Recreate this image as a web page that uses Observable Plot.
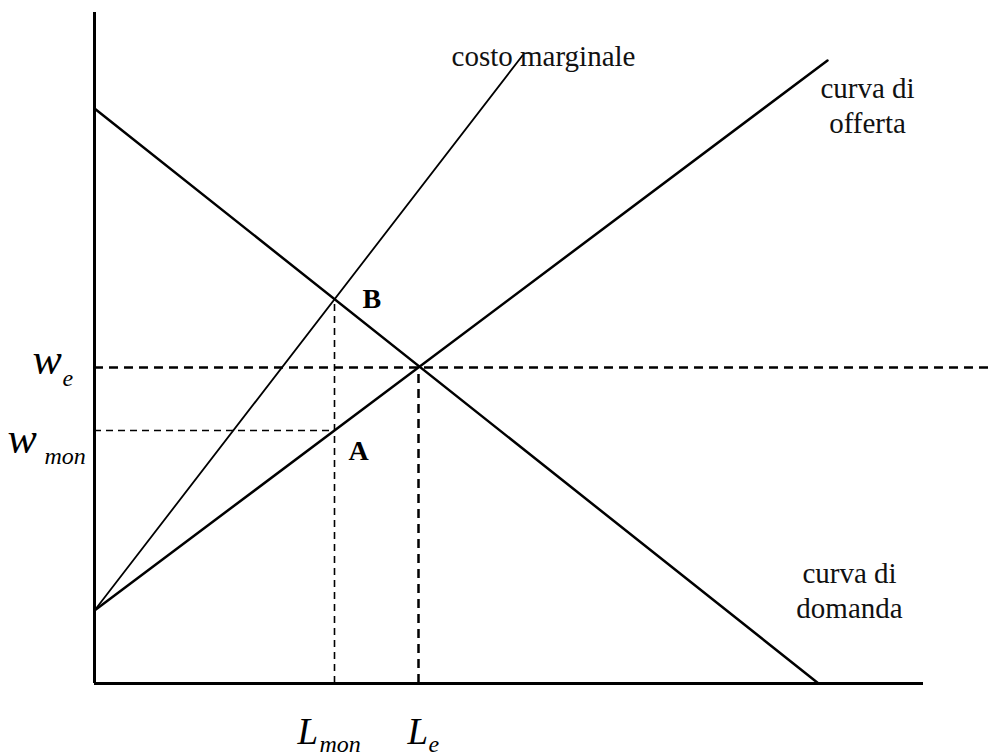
<!DOCTYPE html>
<html><head><meta charset="utf-8">
<script src="https://cdn.jsdelivr.net/npm/d3@7"></script>
<script src="https://cdn.jsdelivr.net/npm/@observablehq/plot@0.6"></script>
<style>body{margin:0;background:#fff}</style>
</head><body><div id="chart"></div>
<script>
// Diagram values (abstract units: L = quantity of labour, w = wage)
const demandL = [0, 724];
const demandW = [575, 0];
const supplyL = [0, 733];
const supplyW = [73, 623];
const mcL = [0, 428];
const mcW = [73, 628];
const Le = 324, we = 316;       // competitive equilibrium
const Lmon = 240, wmon = 253;   // monopsony point A
const wB = 384;                 // point B on demand curve
const axisEndL = 829, axisTopW = 671, maxL = 897, maxW = 683;

const curveLabels = [
  {L: 449, w: 618, text: "costo marginale"},
  {L: 773, w: 551, text: "curva di\nofferta"},
  {L: 755, w: 66, text: "curva di\ndomanda"}
];
const pointLabels = [
  {L: Lmon, w: wB, text: "B"},
  {L: Lmon, w: wmon, text: "A"}
];

const zipLW = (Ls, Ws) => Ls.map((L, i) => ({L, w: Ws[i]}));
const demand = zipLW(demandL, demandW);
const supply = zipLW(supplyL, supplyW);
const mc = zipLW(mcL, mcW);

const serif = "Liberation Serif, Times New Roman, serif";
const base = {fontFamily: serif, fontStyle: "italic", fill: "black", textAnchor: "start", lineAnchor: "bottom"};

const chart = Plot.plot({
  width: 991, height: 756,
  marginLeft: 94, marginRight: 0, marginTop: 0, marginBottom: 73,
  x: {domain: [0, maxL], axis: null},
  y: {domain: [0, maxW], axis: null},
  marks: [
    // axes
    Plot.ruleX([0], {y1: 0, y2: axisTopW, stroke: "black", strokeWidth: 3}),
    Plot.ruleY([0], {x1: 0, x2: axisEndL, stroke: "black", strokeWidth: 3}),
    // dashed guides
    Plot.ruleY([we], {x1: 0, x2: maxL, stroke: "black", strokeWidth: 2.5, strokeDasharray: "9,6"}),
    Plot.ruleX([Le], {y1: 0, y2: we, stroke: "black", strokeWidth: 2.5, strokeDasharray: "9,6"}),
    Plot.ruleY([wmon], {x1: 0, x2: Lmon, stroke: "black", strokeWidth: 1.6, strokeDasharray: "7,5"}),
    Plot.ruleX([Lmon], {y1: 0, y2: wB, stroke: "black", strokeWidth: 1.6, strokeDasharray: "7,5"}),
    // curves
    Plot.line(demand, {x: "L", y: "w", stroke: "black", strokeWidth: 2.5}),
    Plot.line(supply, {x: "L", y: "w", stroke: "black", strokeWidth: 2.5}),
    Plot.line(mc, {x: "L", y: "w", stroke: "black", strokeWidth: 1.8}),
    // curve labels
    Plot.text(curveLabels, {x: "L", y: "w", text: "text", fontFamily: serif, fontSize: 29, lineHeight: 1.2,
      textAnchor: "middle", lineAnchor: "bottom", fill: "#111"}),
    // point labels
    Plot.text(pointLabels.slice(0,1), {x: "L", y: "w", text: "text", dx: 28, dy: 8, fontFamily: serif, fontWeight: "bold",
      fontSize: 28, textAnchor: "start", lineAnchor: "bottom", fill: "black"}),
    Plot.text(pointLabels.slice(1), {x: "L", y: "w", text: "text", dx: 14, dy: 29, fontFamily: serif, fontWeight: "bold",
      fontSize: 28, textAnchor: "start", lineAnchor: "bottom", fill: "black"}),
    // axis symbols with subscripts
    Plot.text([we], {x: 0, y: d => d, text: ["w"], dx: -62, dy: 6, fontSize: 44, ...base}),
    Plot.text([we], {x: 0, y: d => d, text: ["e"], dx: -32, dy: 18, fontSize: 24, ...base}),
    Plot.text([wmon], {x: 0, y: d => d, text: ["w"], dx: -87, dy: 22, fontSize: 44, ...base}),
    Plot.text([wmon], {x: 0, y: d => d, text: ["mon"], dx: -50, dy: 33, fontSize: 24, ...base}),
    Plot.text([Lmon], {x: d => d, y: 0, text: ["L"], dx: -37, dy: 60, fontSize: 37, ...base}),
    Plot.text([Lmon], {x: d => d, y: 0, text: ["mon"], dx: -15, dy: 68, fontSize: 24, ...base}),
    Plot.text([Le], {x: d => d, y: 0, text: ["L"], dx: -11, dy: 60, fontSize: 37, ...base}),
    Plot.text([Le], {x: d => d, y: 0, text: ["e"], dx: 10, dy: 68, fontSize: 24, ...base})
  ]
});
document.getElementById("chart").appendChild(chart);
</script>
</body></html>
